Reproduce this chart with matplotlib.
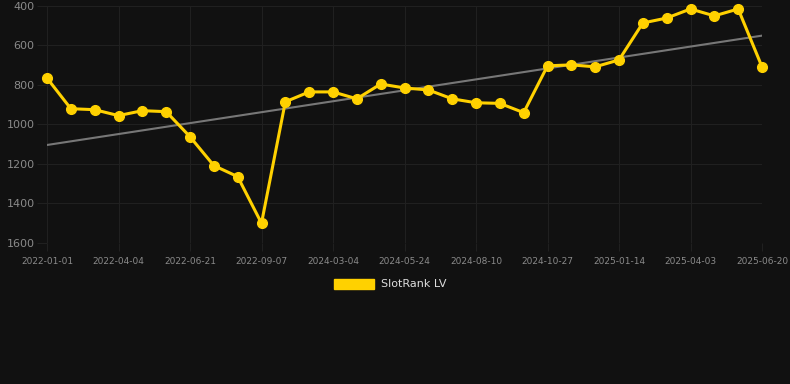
import numpy as np
import matplotlib
matplotlib.use("Agg")
import matplotlib.pyplot as plt
from matplotlib.patches import Patch

# rank values, one per snapshot (lower is better, axis inverted)
ranks = [765, 920, 925, 955, 930, 935, 1062, 1208, 1264, 1500,
         885, 835, 835, 870, 795, 815, 825, 870, 890, 893,
         940, 703, 698, 708, 673, 486, 461, 415, 450, 415, 708]

tick_pos = [0, 3, 6, 9, 12, 15, 18, 21, 24, 27, 30]
tick_labels = ["2022-01-01", "2022-04-04", "2022-06-21", "2022-09-07",
               "2024-03-04", "2024-05-24", "2024-08-10", "2024-10-27",
               "2025-01-14", "2025-04-03", "2025-06-20"]
y_ticks = [400, 600, 800, 1000, 1200, 1400, 1600]

BG = "#111111"
GOLD = "#FFD100"

x = np.arange(len(ranks))
slope, icpt = np.polyfit(x, ranks, 1)

fig = plt.figure(figsize=(7.9, 3.84), dpi=100, facecolor=BG)
ax = fig.add_axes([47 / 790, 1 - 243 / 384, (762 - 47) / 790, (243 - 6) / 384])
ax.set_facecolor(BG)

ax.plot(x, slope * x + icpt, color="#777777", linewidth=1.5, zorder=2)
ax.plot(x, ranks, color=GOLD, linewidth=2.2, marker="o", markersize=7,
        clip_on=False, zorder=3)

ax.set_xlim(0, len(ranks) - 1)
ax.set_ylim(1600, 400)
ax.set_yticks(y_ticks)
ax.set_yticklabels([str(v) for v in y_ticks])
ax.set_xticks(tick_pos)
ax.set_xticklabels(tick_labels)

ax.grid(True, color="#202020", linewidth=0.8)
ax.tick_params(axis="y", colors="#202020", labelcolor="#8a8a8a", labelsize=8,
               length=7, width=0.8, pad=2)
ax.tick_params(axis="x", colors="#202020", labelcolor="#8a8a8a", labelsize=6.5,
               length=6, width=0.8, pad=4)
for s in ax.spines.values():
    s.set_visible(False)

fig.legend(handles=[Patch(facecolor=GOLD, edgecolor=GOLD, label="SlotRank LV")],
           loc="center", bbox_to_anchor=(0.494, 1 - 284 / 384), frameon=False,
           fontsize=8, labelcolor="#dddddd", handlelength=3.6, handleheight=1.0,
           handletextpad=0.6)

fig.savefig("out.png", dpi=100, facecolor=BG)
